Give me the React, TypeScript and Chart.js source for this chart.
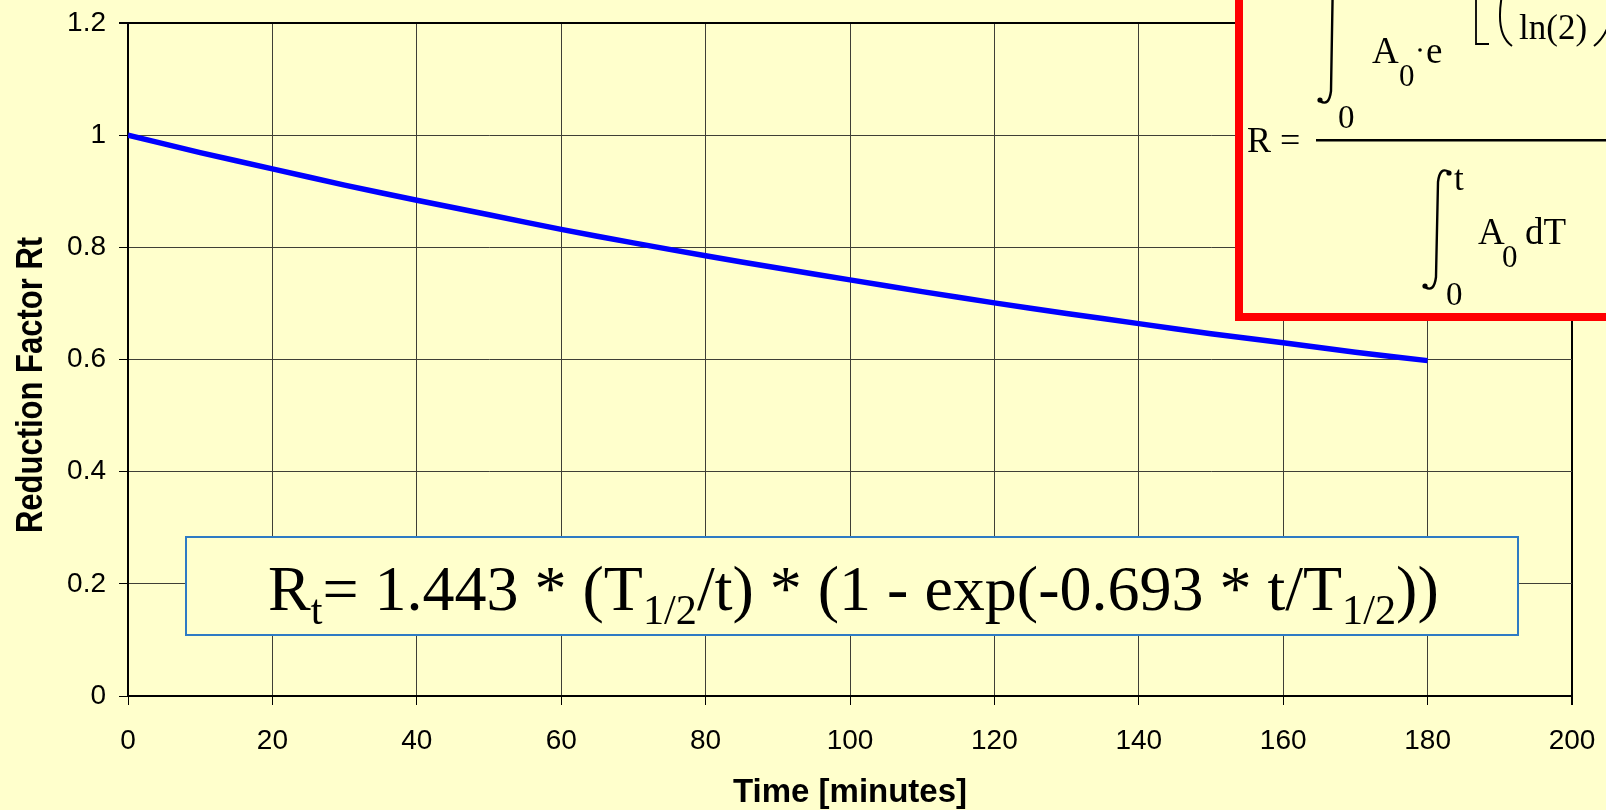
import React, { useEffect, useRef } from 'react';
import { Chart, registerables } from 'chart.js';

Chart.register(...registerables);

// ---- data ----
const timeMinutes = [0, 10, 20, 30, 40, 50, 60, 70, 80, 90, 100, 110, 120, 130, 140, 150, 160, 170, 180];
const reductionFactor = [1.0, 0.969, 0.940, 0.911, 0.884, 0.858, 0.832, 0.808, 0.785, 0.763, 0.742, 0.721, 0.701, 0.682, 0.664, 0.646, 0.630, 0.613, 0.598];
const xTickValues = [0, 20, 40, 60, 80, 100, 120, 140, 160, 180, 200];
const yTickValues = [0, 0.2, 0.4, 0.6, 0.8, 1, 1.2];
const yTickLabels = ['0', '0.2', '0.4', '0.6', '0.8', '1', '1.2'];
const xAxisTitle = 'Time [minutes]';
const yAxisTitle = 'Reduction Factor Rt';

const BG = '#FFFFCC';
const SANS = '"Liberation Sans", Arial, sans-serif';
const SERIF = '"Liberation Serif", "Times New Roman", serif';
const GRID = '#3f3f36';

function drawIntegral(ctx: CanvasRenderingContext2D, cx: number, top: number, bottom: number) {
  ctx.save();
  ctx.strokeStyle = '#000';
  ctx.fillStyle = '#000';
  ctx.lineWidth = 2.4;
  ctx.lineCap = 'round';
  ctx.beginPath();
  ctx.moveTo(cx + 12, top + 3);
  ctx.quadraticCurveTo(cx + 3, top - 3, cx + 1, top + 13);
  ctx.lineTo(cx - 1, bottom - 13);
  ctx.quadraticCurveTo(cx - 3, bottom + 3, cx - 12, bottom - 3);
  ctx.stroke();
  ctx.beginPath();
  ctx.arc(cx + 12, top + 4, 2.6, 0, Math.PI * 2);
  ctx.fill();
  ctx.beginPath();
  ctx.arc(cx - 12, bottom - 4, 2.6, 0, Math.PI * 2);
  ctx.fill();
  ctx.restore();
}

const overlayPlugin = {
  id: 'overlay',
  afterDraw(chart: any) {
    const ctx: CanvasRenderingContext2D = chart.ctx;
    const area = chart.chartArea;
    ctx.save();

    // ---- axis titles ----
    ctx.fillStyle = '#000';
    ctx.font = `bold 33px ${SANS}`;
    ctx.textAlign = 'center';
    ctx.textBaseline = 'alphabetic';
    ctx.fillText(xAxisTitle, (area.left + area.right) / 2, 802);
    ctx.save();
    ctx.font = `bold 31px ${SANS}`;
    ctx.translate(42, 385);
    ctx.rotate(-Math.PI / 2);
    ctx.scale(1, 1.2);
    ctx.fillText(yAxisTitle, 0, 0);
    ctx.restore();

    // ---- formula box (blue border) ----
    const bx = 186, by = 537, bw = 1518 - 186, bh = 635 - 537;
    ctx.fillStyle = BG;
    ctx.fillRect(bx, by, bw, bh);
    ctx.strokeStyle = '#2E7BC4';
    ctx.lineWidth = 2;
    ctx.strokeRect(bx, by, bw, bh);

    const segs = [
      { t: 'R', sub: false },
      { t: 't', sub: true },
      { t: '= 1.443 * (T', sub: false },
      { t: '1/2', sub: true },
      { t: '/t) * (1 - exp(-0.693 * t/T', sub: false },
      { t: '1/2', sub: true },
      { t: '))', sub: false },
    ];
    const measure = (F: number) => {
      let w = 0;
      for (const s of segs) {
        ctx.font = `${s.sub ? F * 0.66 : F}px ${SERIF}`;
        w += ctx.measureText(s.t).width;
      }
      return w;
    };
    const targetW = 1439 - 268;
    const F = 64 * targetW / measure(64);
    let x = 268;
    const base = 610;
    ctx.fillStyle = '#000';
    ctx.textAlign = 'left';
    for (const s of segs) {
      ctx.font = `${s.sub ? F * 0.66 : F}px ${SERIF}`;
      ctx.fillText(s.t, x, s.sub ? base + F * 0.22 : base);
      x += ctx.measureText(s.t).width;
    }

    // ---- red box with the integral definition (cut by the picture edges) ----
    ctx.fillStyle = BG;
    ctx.fillRect(1239, -20, 500, 317 + 20);
    ctx.strokeStyle = '#FF0000';
    ctx.lineWidth = 8;
    ctx.strokeRect(1239, -20, 500, 317 + 20);

    ctx.fillStyle = '#000';
    ctx.font = `36px ${SERIF}`;
    ctx.fillText('R =', 1247, 152);
    ctx.fillRect(1316, 139, 320, 2.5);

    // numerator
    drawIntegral(ctx, 1332, -40, 104);
    ctx.font = `33px ${SERIF}`;
    ctx.fillText('0', 1338, 128);
    ctx.font = `37px ${SERIF}`;
    ctx.fillText('A', 1372, 63);
    ctx.font = `31px ${SERIF}`;
    ctx.fillText('0', 1399, 86);
    ctx.beginPath();
    ctx.arc(1420, 50, 1.8, 0, Math.PI * 2);
    ctx.fill();
    ctx.font = `37px ${SERIF}`;
    ctx.fillText('e', 1426, 63);
    ctx.strokeStyle = '#000';
    ctx.lineWidth = 1.8;
    ctx.beginPath();
    ctx.moveTo(1476, -5);
    ctx.lineTo(1476, 44);
    ctx.lineTo(1489, 44);
    ctx.stroke();
    ctx.lineWidth = 2;
    ctx.beginPath();
    ctx.moveTo(1502, -5);
    ctx.quadraticCurveTo(1495, 34, 1512, 46);
    ctx.stroke();
    ctx.font = `35px ${SERIF}`;
    ctx.fillText('ln(2)', 1519, 39);
    ctx.beginPath();
    ctx.moveTo(1594, 46);
    ctx.quadraticCurveTo(1609, 34, 1612, 10);
    ctx.stroke();

    // denominator
    drawIntegral(ctx, 1437, 169, 290);
    ctx.font = `35px ${SERIF}`;
    ctx.fillText('t', 1454, 190);
    ctx.font = `33px ${SERIF}`;
    ctx.fillText('0', 1446, 305);
    ctx.font = `37px ${SERIF}`;
    ctx.fillText('A', 1478, 244);
    ctx.font = `31px ${SERIF}`;
    ctx.fillText('0', 1502, 267);
    ctx.font = `37px ${SERIF}`;
    ctx.fillText('dT', 1525, 244);

    ctx.restore();
  },
};

export default function App() {
  const canvasRef = useRef<HTMLCanvasElement | null>(null);

  useEffect(() => {
    document.body.style.margin = '0';
    document.body.style.background = BG;
    const canvas = canvasRef.current;
    if (!canvas) return;
    const chart = new Chart(canvas, {
      type: 'line',
      data: {
        datasets: [
          {
            data: timeMinutes.map((t, i) => ({ x: t, y: reductionFactor[i] })),
            borderColor: '#0000FF',
            borderWidth: 5.5,
            pointRadius: 0,
            tension: 0.3,
            fill: false,
          },
        ],
      },
      options: {
        animation: false,
        responsive: true,
        maintainAspectRatio: false,
        layout: { padding: { top: 23, right: 34, left: 0, bottom: 0 } },
        plugins: { legend: { display: false }, tooltip: { enabled: false } },
        scales: {
          x: {
            type: 'linear',
            min: 0,
            max: 200,
            afterBuildTicks: (scale: any) => {
              scale.ticks = xTickValues.map((v) => ({ value: v }));
            },
            afterFit: (scale: any) => {
              scale.height = 114;
              scale.paddingLeft = 0;
              scale.paddingRight = 0;
            },
            ticks: {
              color: '#000',
              font: { family: SANS, size: 28 },
              padding: 19,
              maxRotation: 0,
              autoSkip: false,
            },
            grid: {
              color: (c: any) => (c.tick && c.tick.value === 200 ? '#000' : GRID),
              lineWidth: (c: any) => (c.tick && c.tick.value === 200 ? 2 : 1),
              tickColor: '#000',
              tickLength: 9,
            },
            border: { color: '#000', width: 2 },
          },
          y: {
            type: 'linear',
            min: 0,
            max: 1.2,
            afterBuildTicks: (scale: any) => {
              scale.ticks = yTickValues.map((v) => ({ value: v }));
            },
            afterFit: (scale: any) => {
              scale.width = 128;
              scale.paddingTop = 0;
              scale.paddingBottom = 0;
            },
            ticks: {
              color: '#000',
              font: { family: SANS, size: 28 },
              padding: 13,
              autoSkip: false,
              callback: (_v: any, i: number) => yTickLabels[i],
            },
            grid: {
              color: (c: any) => (c.tick && c.tick.value === 1.2 ? '#000' : GRID),
              lineWidth: (c: any) => (c.tick && c.tick.value === 1.2 ? 2 : 1),
              tickColor: '#000',
              tickLength: 9,
            },
            border: { color: '#000', width: 2 },
          },
        },
      },
      plugins: [overlayPlugin],
    });
    return () => chart.destroy();
  }, []);

  return (
    <div style={{ position: 'absolute', left: 0, top: 0, width: 1606, height: 810, background: BG }}>
      <canvas ref={canvasRef} />
    </div>
  );
}
